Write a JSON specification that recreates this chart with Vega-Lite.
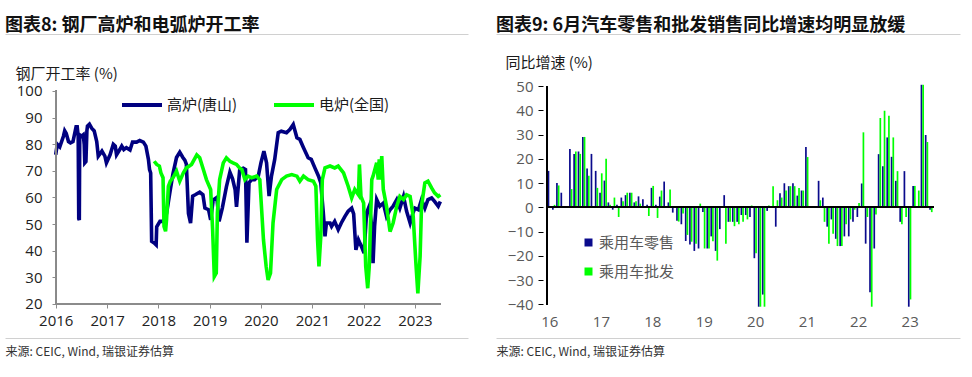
{
  "$schema": "https://vega.github.io/schema/vega-lite/v6.json",
  "padding": {"left": 5, "top": 17, "right": 5, "bottom": 5},
  "config": {
    "font": "Open Sans, Noto Sans CJK SC",
    "view": {"stroke": null},
    "axis": {"grid": false, "labelOverlap": false, "labelFlush": false, "labelFont": "Open Sans, Noto Sans CJK SC", "titleFont": "Noto Sans CJK SC"},
    "axisY": {"labelOverlap": false},
    "axisQuantitative": {"labelOverlap": false},
    "legend": {"padding": 0}
  },
  "spacing": 28,
  "resolve": {"scale": {"color": "independent"}, "legend": {"color": "independent"}},
  "datasets": {
    "furnace": [
      {"date": "2016-01-01", "series": "高炉(唐山)", "value": 76},
      {"date": "2016-01-12", "series": "高炉(唐山)", "value": 80},
      {"date": "2016-01-30", "series": "高炉(唐山)", "value": 79},
      {"date": "2016-02-25", "series": "高炉(唐山)", "value": 83},
      {"date": "2016-03-05", "series": "高炉(唐山)", "value": 85},
      {"date": "2016-03-16", "series": "高炉(唐山)", "value": 84},
      {"date": "2016-04-01", "series": "高炉(唐山)", "value": 81},
      {"date": "2016-04-15", "series": "高炉(唐山)", "value": 80.5},
      {"date": "2016-05-03", "series": "高炉(唐山)", "value": 81},
      {"date": "2016-05-25", "series": "高炉(唐山)", "value": 86.5},
      {"date": "2016-06-02", "series": "高炉(唐山)", "value": 86.5},
      {"date": "2016-06-09", "series": "高炉(唐山)", "value": 83},
      {"date": "2016-06-13", "series": "高炉(唐山)", "value": 52},
      {"date": "2016-06-17", "series": "高炉(唐山)", "value": 51.5},
      {"date": "2016-06-20", "series": "高炉(唐山)", "value": 83.5},
      {"date": "2016-07-04", "series": "高炉(唐山)", "value": 83},
      {"date": "2016-07-15", "series": "高炉(唐山)", "value": 83.5},
      {"date": "2016-07-22", "series": "高炉(唐山)", "value": 80},
      {"date": "2016-07-26", "series": "高炉(唐山)", "value": 73},
      {"date": "2016-08-03", "series": "高炉(唐山)", "value": 73.5},
      {"date": "2016-08-10", "series": "高炉(唐山)", "value": 85},
      {"date": "2016-08-14", "series": "高炉(唐山)", "value": 86.8},
      {"date": "2016-08-28", "series": "高炉(唐山)", "value": 87.5},
      {"date": "2016-09-13", "series": "高炉(唐山)", "value": 86},
      {"date": "2016-10-01", "series": "高炉(唐山)", "value": 85},
      {"date": "2016-10-19", "series": "高炉(唐山)", "value": 81},
      {"date": "2016-10-30", "series": "高炉(唐山)", "value": 75.5},
      {"date": "2016-11-25", "series": "高炉(唐山)", "value": 77.4},
      {"date": "2016-12-16", "series": "高炉(唐山)", "value": 75.5},
      {"date": "2016-12-27", "series": "高炉(唐山)", "value": 73},
      {"date": "2017-01-22", "series": "高炉(唐山)", "value": 76},
      {"date": "2017-02-14", "series": "高炉(唐山)", "value": 80},
      {"date": "2017-02-28", "series": "高炉(唐山)", "value": 79.3},
      {"date": "2017-03-09", "series": "高炉(唐山)", "value": 76},
      {"date": "2017-04-01", "series": "高炉(唐山)", "value": 78},
      {"date": "2017-04-15", "series": "高炉(唐山)", "value": 79.3},
      {"date": "2017-04-30", "series": "高炉(唐山)", "value": 78},
      {"date": "2017-05-18", "series": "高炉(唐山)", "value": 78.7},
      {"date": "2017-06-13", "series": "高炉(唐山)", "value": 77.8},
      {"date": "2017-07-01", "series": "高炉(唐山)", "value": 80.8},
      {"date": "2017-07-30", "series": "高炉(唐山)", "value": 80.8},
      {"date": "2017-08-21", "series": "高炉(唐山)", "value": 81.4},
      {"date": "2017-09-16", "series": "高炉(唐山)", "value": 80.8},
      {"date": "2017-10-04", "series": "高炉(唐山)", "value": 79.3},
      {"date": "2017-10-22", "series": "高炉(唐山)", "value": 74.3},
      {"date": "2017-10-30", "series": "高炉(唐山)", "value": 70.5},
      {"date": "2017-11-07", "series": "高炉(唐山)", "value": 69.2},
      {"date": "2017-11-14", "series": "高炉(唐山)", "value": 43.5},
      {"date": "2017-12-02", "series": "高炉(唐山)", "value": 42.9},
      {"date": "2017-12-16", "series": "高炉(唐山)", "value": 42.2},
      {"date": "2017-12-20", "series": "高炉(唐山)", "value": 49},
      {"date": "2018-01-12", "series": "高炉(唐山)", "value": 51},
      {"date": "2018-02-07", "series": "高炉(唐山)", "value": 51},
      {"date": "2018-02-28", "series": "高炉(唐山)", "value": 54},
      {"date": "2018-03-24", "series": "高炉(唐山)", "value": 62},
      {"date": "2018-04-15", "series": "高炉(唐山)", "value": 69},
      {"date": "2018-05-10", "series": "高炉(唐山)", "value": 75},
      {"date": "2018-06-02", "series": "高炉(唐山)", "value": 77},
      {"date": "2018-06-24", "series": "高炉(唐山)", "value": 75},
      {"date": "2018-07-08", "series": "高炉(唐山)", "value": 74},
      {"date": "2018-07-19", "series": "高炉(唐山)", "value": 72.5},
      {"date": "2018-08-03", "series": "高炉(唐山)", "value": 54},
      {"date": "2018-08-18", "series": "高炉(唐山)", "value": 50.4},
      {"date": "2018-09-02", "series": "高炉(唐山)", "value": 60.5},
      {"date": "2018-09-20", "series": "高炉(唐山)", "value": 61},
      {"date": "2018-10-22", "series": "高炉(唐山)", "value": 62},
      {"date": "2018-11-14", "series": "高炉(唐山)", "value": 61},
      {"date": "2018-11-28", "series": "高炉(唐山)", "value": 56},
      {"date": "2018-12-24", "series": "高炉(唐山)", "value": 55.4},
      {"date": "2019-01-08", "series": "高炉(唐山)", "value": 51.6},
      {"date": "2019-01-26", "series": "高炉(唐山)", "value": 59},
      {"date": "2019-02-21", "series": "高炉(唐山)", "value": 60},
      {"date": "2019-03-09", "series": "高炉(唐山)", "value": 51},
      {"date": "2019-04-01", "series": "高炉(唐山)", "value": 56},
      {"date": "2019-04-30", "series": "高炉(唐山)", "value": 64},
      {"date": "2019-05-25", "series": "高炉(唐山)", "value": 69.5},
      {"date": "2019-06-13", "series": "高炉(唐山)", "value": 67},
      {"date": "2019-07-01", "series": "高炉(唐山)", "value": 63},
      {"date": "2019-07-11", "series": "高炉(唐山)", "value": 56.5},
      {"date": "2019-08-03", "series": "高炉(唐山)", "value": 70.5},
      {"date": "2019-08-28", "series": "高炉(唐山)", "value": 71},
      {"date": "2019-09-13", "series": "高炉(唐山)", "value": 70.5},
      {"date": "2019-09-23", "series": "高炉(唐山)", "value": 43},
      {"date": "2019-10-08", "series": "高炉(唐山)", "value": 65.5},
      {"date": "2019-10-26", "series": "高炉(唐山)", "value": 66.7},
      {"date": "2019-11-17", "series": "高炉(唐山)", "value": 66.7},
      {"date": "2019-12-13", "series": "高炉(唐山)", "value": 68},
      {"date": "2020-01-01", "series": "高炉(唐山)", "value": 73},
      {"date": "2020-01-22", "series": "高炉(唐山)", "value": 77.4},
      {"date": "2020-02-10", "series": "高炉(唐山)", "value": 73},
      {"date": "2020-02-28", "series": "高炉(唐山)", "value": 60.5},
      {"date": "2020-03-16", "series": "高炉(唐山)", "value": 68},
      {"date": "2020-04-08", "series": "高炉(唐山)", "value": 74.3},
      {"date": "2020-05-03", "series": "高炉(唐山)", "value": 84.3},
      {"date": "2020-05-25", "series": "高炉(唐山)", "value": 84.9},
      {"date": "2020-07-01", "series": "高炉(唐山)", "value": 84.3},
      {"date": "2020-07-26", "series": "高炉(唐山)", "value": 85.6},
      {"date": "2020-08-18", "series": "高炉(唐山)", "value": 87.4},
      {"date": "2020-09-13", "series": "高炉(唐山)", "value": 82.4},
      {"date": "2020-10-04", "series": "高炉(唐山)", "value": 81.8},
      {"date": "2020-10-30", "series": "高炉(唐山)", "value": 78.7},
      {"date": "2020-12-02", "series": "高炉(唐山)", "value": 74.9},
      {"date": "2020-12-24", "series": "高炉(唐山)", "value": 74.3},
      {"date": "2021-01-19", "series": "高炉(唐山)", "value": 71.1},
      {"date": "2021-02-14", "series": "高炉(唐山)", "value": 68},
      {"date": "2021-03-02", "series": "高炉(唐山)", "value": 65.5},
      {"date": "2021-03-20", "series": "高炉(唐山)", "value": 54.2},
      {"date": "2021-04-01", "series": "高炉(唐山)", "value": 45.4},
      {"date": "2021-04-11", "series": "高炉(唐山)", "value": 50.4},
      {"date": "2021-05-07", "series": "高炉(唐山)", "value": 50.4},
      {"date": "2021-05-18", "series": "高炉(唐山)", "value": 49.1},
      {"date": "2021-06-09", "series": "高炉(唐山)", "value": 51},
      {"date": "2021-07-04", "series": "高炉(唐山)", "value": 47.9},
      {"date": "2021-07-26", "series": "高炉(唐山)", "value": 50.4},
      {"date": "2021-08-21", "series": "高炉(唐山)", "value": 52.9},
      {"date": "2021-09-13", "series": "高炉(唐山)", "value": 54.8},
      {"date": "2021-10-08", "series": "高炉(唐山)", "value": 56},
      {"date": "2021-10-22", "series": "高炉(唐山)", "value": 53.8},
      {"date": "2021-11-07", "series": "高炉(唐山)", "value": 40.3},
      {"date": "2021-11-25", "series": "高炉(唐山)", "value": 44.1},
      {"date": "2021-12-16", "series": "高炉(唐山)", "value": 41.6},
      {"date": "2022-01-04", "series": "高炉(唐山)", "value": 39.1},
      {"date": "2022-01-22", "series": "高炉(唐山)", "value": 54.2},
      {"date": "2022-02-10", "series": "高炉(唐山)", "value": 56.7},
      {"date": "2022-02-28", "series": "高炉(唐山)", "value": 49.1},
      {"date": "2022-03-09", "series": "高炉(唐山)", "value": 35.3},
      {"date": "2022-03-20", "series": "高炉(唐山)", "value": 49.1},
      {"date": "2022-04-04", "series": "高炉(唐山)", "value": 59.2},
      {"date": "2022-04-26", "series": "高炉(唐山)", "value": 56.7},
      {"date": "2022-05-21", "series": "高炉(唐山)", "value": 57.9},
      {"date": "2022-06-13", "series": "高炉(唐山)", "value": 52.9},
      {"date": "2022-07-08", "series": "高炉(唐山)", "value": 55.4},
      {"date": "2022-07-30", "series": "高炉(唐山)", "value": 56.7},
      {"date": "2022-08-25", "series": "高炉(唐山)", "value": 59.2},
      {"date": "2022-09-16", "series": "高炉(唐山)", "value": 56},
      {"date": "2022-10-12", "series": "高炉(唐山)", "value": 60.4},
      {"date": "2022-11-03", "series": "高炉(唐山)", "value": 54.8},
      {"date": "2022-11-28", "series": "高炉(唐山)", "value": 50.4},
      {"date": "2022-12-16", "series": "高炉(唐山)", "value": 53.8},
      {"date": "2023-01-01", "series": "高炉(唐山)", "value": 56},
      {"date": "2023-01-26", "series": "高炉(唐山)", "value": 55.4},
      {"date": "2023-02-17", "series": "高炉(唐山)", "value": 59.2},
      {"date": "2023-03-13", "series": "高炉(唐山)", "value": 56},
      {"date": "2023-04-04", "series": "高炉(唐山)", "value": 59.2},
      {"date": "2023-04-30", "series": "高炉(唐山)", "value": 59.8},
      {"date": "2023-05-21", "series": "高炉(唐山)", "value": 58.5},
      {"date": "2023-06-16", "series": "高炉(唐山)", "value": 56.7},
      {"date": "2023-07-01", "series": "高炉(唐山)", "value": 58.5},
      {"date": "2017-12-02", "series": "电炉(全国)", "value": 73.6},
      {"date": "2017-12-20", "series": "电炉(全国)", "value": 72.4},
      {"date": "2018-01-08", "series": "电炉(全国)", "value": 71.8},
      {"date": "2018-01-19", "series": "电炉(全国)", "value": 69.2},
      {"date": "2018-02-03", "series": "电炉(全国)", "value": 67.4},
      {"date": "2018-02-10", "series": "电炉(全国)", "value": 49.1},
      {"date": "2018-02-21", "series": "电炉(全国)", "value": 47.3},
      {"date": "2018-02-28", "series": "电炉(全国)", "value": 51.7},
      {"date": "2018-03-13", "series": "电炉(全国)", "value": 64.2},
      {"date": "2018-03-27", "series": "电炉(全国)", "value": 66.1},
      {"date": "2018-04-15", "series": "电炉(全国)", "value": 67.4},
      {"date": "2018-05-10", "series": "电炉(全国)", "value": 69.9},
      {"date": "2018-06-02", "series": "电炉(全国)", "value": 66.1},
      {"date": "2018-06-27", "series": "电炉(全国)", "value": 69.2},
      {"date": "2018-07-19", "series": "电炉(全国)", "value": 71.1},
      {"date": "2018-08-25", "series": "电炉(全国)", "value": 72.4},
      {"date": "2018-10-01", "series": "电炉(全国)", "value": 76},
      {"date": "2018-10-22", "series": "电炉(全国)", "value": 74.9},
      {"date": "2018-11-17", "series": "电炉(全国)", "value": 70.5},
      {"date": "2018-12-09", "series": "电炉(全国)", "value": 66.7},
      {"date": "2019-01-08", "series": "电炉(全国)", "value": 63},
      {"date": "2019-01-22", "series": "电炉(全国)", "value": 47.9},
      {"date": "2019-02-03", "series": "电炉(全国)", "value": 30.3},
      {"date": "2019-02-17", "series": "电炉(全国)", "value": 31.6},
      {"date": "2019-02-25", "series": "电炉(全国)", "value": 54.2},
      {"date": "2019-03-13", "series": "电炉(全国)", "value": 66.7},
      {"date": "2019-04-08", "series": "电炉(全国)", "value": 73},
      {"date": "2019-04-30", "series": "电炉(全国)", "value": 74.9},
      {"date": "2019-05-25", "series": "电炉(全国)", "value": 73.6},
      {"date": "2019-06-16", "series": "电炉(全国)", "value": 73},
      {"date": "2019-07-11", "series": "电炉(全国)", "value": 72.4},
      {"date": "2019-08-03", "series": "电炉(全国)", "value": 71},
      {"date": "2019-08-18", "series": "电炉(全国)", "value": 70.5},
      {"date": "2019-09-09", "series": "电炉(全国)", "value": 66.7},
      {"date": "2019-10-01", "series": "电炉(全国)", "value": 68},
      {"date": "2019-10-26", "series": "电炉(全国)", "value": 67.4},
      {"date": "2019-12-02", "series": "电炉(全国)", "value": 68},
      {"date": "2019-12-24", "series": "电炉(全国)", "value": 66.7},
      {"date": "2020-01-19", "series": "电炉(全国)", "value": 44.1},
      {"date": "2020-02-07", "series": "电炉(全国)", "value": 34.1},
      {"date": "2020-02-21", "series": "电炉(全国)", "value": 29},
      {"date": "2020-03-09", "series": "电炉(全国)", "value": 31.6},
      {"date": "2020-03-27", "series": "电炉(全国)", "value": 50.4},
      {"date": "2020-04-22", "series": "电炉(全国)", "value": 63},
      {"date": "2020-05-28", "series": "电炉(全国)", "value": 66.7},
      {"date": "2020-07-01", "series": "电炉(全国)", "value": 68},
      {"date": "2020-08-07", "series": "电炉(全国)", "value": 68.6},
      {"date": "2020-09-13", "series": "电炉(全国)", "value": 68},
      {"date": "2020-10-04", "series": "电炉(全国)", "value": 66.1},
      {"date": "2020-10-30", "series": "电炉(全国)", "value": 68},
      {"date": "2020-12-02", "series": "电炉(全国)", "value": 66.7},
      {"date": "2021-01-08", "series": "电炉(全国)", "value": 66.1},
      {"date": "2021-01-26", "series": "电炉(全国)", "value": 64.2},
      {"date": "2021-02-07", "series": "电炉(全国)", "value": 44.1},
      {"date": "2021-02-17", "series": "电炉(全国)", "value": 34.1},
      {"date": "2021-03-02", "series": "电炉(全国)", "value": 45.4},
      {"date": "2021-03-13", "series": "电炉(全国)", "value": 66.7},
      {"date": "2021-04-01", "series": "电炉(全国)", "value": 71.1},
      {"date": "2021-05-07", "series": "电炉(全国)", "value": 71.8},
      {"date": "2021-06-09", "series": "电炉(全国)", "value": 71.1},
      {"date": "2021-07-04", "series": "电炉(全国)", "value": 71.8},
      {"date": "2021-08-11", "series": "电炉(全国)", "value": 69.2},
      {"date": "2021-09-13", "series": "电炉(全国)", "value": 64.2},
      {"date": "2021-10-08", "series": "电炉(全国)", "value": 59.8},
      {"date": "2021-10-30", "series": "电炉(全国)", "value": 63},
      {"date": "2021-11-25", "series": "电炉(全国)", "value": 61},
      {"date": "2021-12-02", "series": "电炉(全国)", "value": 72.4},
      {"date": "2021-12-13", "series": "电炉(全国)", "value": 60.4},
      {"date": "2022-01-01", "series": "电炉(全国)", "value": 57.9},
      {"date": "2022-01-16", "series": "电炉(全国)", "value": 34.1},
      {"date": "2022-01-30", "series": "电炉(全国)", "value": 25.9},
      {"date": "2022-02-10", "series": "电炉(全国)", "value": 34.1},
      {"date": "2022-02-28", "series": "电炉(全国)", "value": 66.7},
      {"date": "2022-03-09", "series": "电炉(全国)", "value": 68},
      {"date": "2022-04-04", "series": "电炉(全国)", "value": 73},
      {"date": "2022-04-15", "series": "电炉(全国)", "value": 66.7},
      {"date": "2022-04-22", "series": "电炉(全国)", "value": 74.3},
      {"date": "2022-04-30", "series": "电炉(全国)", "value": 66.7},
      {"date": "2022-05-10", "series": "电炉(全国)", "value": 75.5},
      {"date": "2022-05-21", "series": "电炉(全国)", "value": 63},
      {"date": "2022-06-13", "series": "电炉(全国)", "value": 56.7},
      {"date": "2022-07-08", "series": "电炉(全国)", "value": 47.2},
      {"date": "2022-07-30", "series": "电炉(全国)", "value": 50.4},
      {"date": "2022-08-25", "series": "电炉(全国)", "value": 56.7},
      {"date": "2022-09-16", "series": "电炉(全国)", "value": 60.4},
      {"date": "2022-10-12", "series": "电炉(全国)", "value": 59.2},
      {"date": "2022-11-03", "series": "电炉(全国)", "value": 61},
      {"date": "2022-11-28", "series": "电炉(全国)", "value": 60.4},
      {"date": "2022-12-20", "series": "电炉(全国)", "value": 52.9},
      {"date": "2023-01-08", "series": "电炉(全国)", "value": 35.3},
      {"date": "2023-01-22", "series": "电炉(全国)", "value": 24},
      {"date": "2023-02-07", "series": "电炉(全国)", "value": 37.8},
      {"date": "2023-02-17", "series": "电炉(全国)", "value": 56.7},
      {"date": "2023-03-13", "series": "电炉(全国)", "value": 65.5},
      {"date": "2023-04-04", "series": "电炉(全国)", "value": 66.1},
      {"date": "2023-04-30", "series": "电炉(全国)", "value": 63.6},
      {"date": "2023-05-21", "series": "电炉(全国)", "value": 61.7},
      {"date": "2023-06-16", "series": "电炉(全国)", "value": 60.4},
      {"date": "2023-07-01", "series": "电炉(全国)", "value": 61}
    ],
    "cars": [
      {"date": "2016-01-01", "series": "乘用车零售", "value": 15},
      {"date": "2016-02-01", "series": "乘用车零售", "value": -1},
      {"date": "2016-02-01", "series": "乘用车批发", "value": 1},
      {"date": "2016-03-01", "series": "乘用车零售", "value": 10},
      {"date": "2016-03-01", "series": "乘用车批发", "value": 9},
      {"date": "2016-04-01", "series": "乘用车零售", "value": 6},
      {"date": "2016-06-01", "series": "乘用车零售", "value": 24},
      {"date": "2016-06-01", "series": "乘用车批发", "value": 7.5},
      {"date": "2016-07-01", "series": "乘用车零售", "value": 22},
      {"date": "2016-07-01", "series": "乘用车批发", "value": 23},
      {"date": "2016-08-01", "series": "乘用车零售", "value": 23},
      {"date": "2016-08-01", "series": "乘用车批发", "value": 22},
      {"date": "2016-09-01", "series": "乘用车零售", "value": 29},
      {"date": "2016-09-01", "series": "乘用车批发", "value": 29},
      {"date": "2016-10-01", "series": "乘用车零售", "value": 16},
      {"date": "2016-10-01", "series": "乘用车批发", "value": 13},
      {"date": "2016-11-01", "series": "乘用车零售", "value": 22},
      {"date": "2016-12-01", "series": "乘用车零售", "value": 15},
      {"date": "2016-12-01", "series": "乘用车批发", "value": 8},
      {"date": "2017-01-01", "series": "乘用车零售", "value": 6},
      {"date": "2017-01-01", "series": "乘用车批发", "value": 14},
      {"date": "2017-02-01", "series": "乘用车零售", "value": 11},
      {"date": "2017-02-01", "series": "乘用车批发", "value": 20},
      {"date": "2017-03-01", "series": "乘用车零售", "value": 2},
      {"date": "2017-03-01", "series": "乘用车批发", "value": 1},
      {"date": "2017-04-01", "series": "乘用车零售", "value": -1},
      {"date": "2017-04-01", "series": "乘用车批发", "value": 4},
      {"date": "2017-05-01", "series": "乘用车零售", "value": 1},
      {"date": "2017-05-01", "series": "乘用车批发", "value": -4},
      {"date": "2017-06-01", "series": "乘用车零售", "value": 4},
      {"date": "2017-06-01", "series": "乘用车批发", "value": 2.5},
      {"date": "2017-07-01", "series": "乘用车零售", "value": 5},
      {"date": "2017-07-01", "series": "乘用车批发", "value": 6},
      {"date": "2017-08-01", "series": "乘用车零售", "value": 6},
      {"date": "2017-08-01", "series": "乘用车批发", "value": 6},
      {"date": "2017-09-01", "series": "乘用车零售", "value": 2},
      {"date": "2017-09-01", "series": "乘用车批发", "value": 2.5},
      {"date": "2017-10-01", "series": "乘用车零售", "value": 4.5},
      {"date": "2017-10-01", "series": "乘用车批发", "value": 1.5},
      {"date": "2017-11-01", "series": "乘用车零售", "value": 3.3},
      {"date": "2017-12-01", "series": "乘用车零售", "value": 1},
      {"date": "2017-12-01", "series": "乘用车批发", "value": -3.6},
      {"date": "2018-01-01", "series": "乘用车零售", "value": 8},
      {"date": "2018-01-01", "series": "乘用车批发", "value": 8.8},
      {"date": "2018-02-01", "series": "乘用车零售", "value": 1},
      {"date": "2018-02-01", "series": "乘用车批发", "value": -4.4},
      {"date": "2018-03-01", "series": "乘用车零售", "value": 4.4},
      {"date": "2018-03-01", "series": "乘用车批发", "value": 6.9},
      {"date": "2018-04-01", "series": "乘用车零售", "value": 10.6},
      {"date": "2018-05-01", "series": "乘用车零售", "value": 2},
      {"date": "2018-05-01", "series": "乘用车批发", "value": 7.3},
      {"date": "2018-06-01", "series": "乘用车零售", "value": -2.2},
      {"date": "2018-07-01", "series": "乘用车零售", "value": -5.6},
      {"date": "2018-07-01", "series": "乘用车批发", "value": -5.9},
      {"date": "2018-08-01", "series": "乘用车零售", "value": -7},
      {"date": "2018-08-01", "series": "乘用车批发", "value": -2.6},
      {"date": "2018-09-01", "series": "乘用车零售", "value": -13.9},
      {"date": "2018-09-01", "series": "乘用车批发", "value": -11.4},
      {"date": "2018-10-01", "series": "乘用车零售", "value": -15.3},
      {"date": "2018-10-01", "series": "乘用车批发", "value": -14.2},
      {"date": "2018-11-01", "series": "乘用车零售", "value": -18},
      {"date": "2018-11-01", "series": "乘用车批发", "value": -15},
      {"date": "2018-12-01", "series": "乘用车零售", "value": -17},
      {"date": "2018-12-01", "series": "乘用车批发", "value": 1.5},
      {"date": "2019-01-01", "series": "乘用车零售", "value": -2},
      {"date": "2019-01-01", "series": "乘用车批发", "value": -17},
      {"date": "2019-02-01", "series": "乘用车零售", "value": -17},
      {"date": "2019-02-01", "series": "乘用车批发", "value": -17},
      {"date": "2019-03-01", "series": "乘用车零售", "value": -12},
      {"date": "2019-03-01", "series": "乘用车批发", "value": -14},
      {"date": "2019-04-01", "series": "乘用车零售", "value": -18},
      {"date": "2019-04-01", "series": "乘用车批发", "value": -22},
      {"date": "2019-05-01", "series": "乘用车零售", "value": -9},
      {"date": "2019-06-01", "series": "乘用车零售", "value": 5},
      {"date": "2019-06-01", "series": "乘用车批发", "value": -15},
      {"date": "2019-07-01", "series": "乘用车零售", "value": -6},
      {"date": "2019-07-01", "series": "乘用车批发", "value": -6},
      {"date": "2019-08-01", "series": "乘用车零售", "value": -6},
      {"date": "2019-08-01", "series": "乘用车批发", "value": -7.8},
      {"date": "2019-09-01", "series": "乘用车零售", "value": -6},
      {"date": "2019-09-01", "series": "乘用车批发", "value": -7},
      {"date": "2019-10-01", "series": "乘用车零售", "value": -3.2},
      {"date": "2019-10-01", "series": "乘用车批发", "value": -6},
      {"date": "2019-11-01", "series": "乘用车零售", "value": -3.2},
      {"date": "2019-11-01", "series": "乘用车批发", "value": -5},
      {"date": "2019-12-01", "series": "乘用车零售", "value": -4},
      {"date": "2019-12-01", "series": "乘用车批发", "value": 0.7},
      {"date": "2020-01-01", "series": "乘用车零售", "value": -21},
      {"date": "2020-01-01", "series": "乘用车批发", "value": -19},
      {"date": "2020-02-01", "series": "乘用车零售", "value": -41},
      {"date": "2020-02-01", "series": "乘用车批发", "value": -41},
      {"date": "2020-03-01", "series": "乘用车零售", "value": -36},
      {"date": "2020-03-01", "series": "乘用车批发", "value": -41},
      {"date": "2020-04-01", "series": "乘用车零售", "value": -1.5},
      {"date": "2020-04-01", "series": "乘用车批发", "value": 0.7},
      {"date": "2020-05-01", "series": "乘用车批发", "value": 8.7},
      {"date": "2020-06-01", "series": "乘用车零售", "value": -8},
      {"date": "2020-06-01", "series": "乘用车批发", "value": 2.9},
      {"date": "2020-07-01", "series": "乘用车零售", "value": 5.8},
      {"date": "2020-07-01", "series": "乘用车批发", "value": 4},
      {"date": "2020-08-01", "series": "乘用车零售", "value": 9.9},
      {"date": "2020-08-01", "series": "乘用车批发", "value": 6.9},
      {"date": "2020-09-01", "series": "乘用车零售", "value": 8.7},
      {"date": "2020-09-01", "series": "乘用车批发", "value": 8.7},
      {"date": "2020-10-01", "series": "乘用车零售", "value": 9.9},
      {"date": "2020-10-01", "series": "乘用车批发", "value": 8.7},
      {"date": "2020-11-01", "series": "乘用车零售", "value": 4.8},
      {"date": "2020-11-01", "series": "乘用车批发", "value": 7.9},
      {"date": "2020-12-01", "series": "乘用车零售", "value": 6.9},
      {"date": "2020-12-01", "series": "乘用车批发", "value": 6.9},
      {"date": "2021-01-01", "series": "乘用车零售", "value": 24.8},
      {"date": "2021-01-01", "series": "乘用车批发", "value": 20.7},
      {"date": "2021-04-01", "series": "乘用车零售", "value": 10.9},
      {"date": "2021-04-01", "series": "乘用车批发", "value": 2.9},
      {"date": "2021-05-01", "series": "乘用车零售", "value": 4},
      {"date": "2021-05-01", "series": "乘用车批发", "value": -6},
      {"date": "2021-06-01", "series": "乘用车零售", "value": -8},
      {"date": "2021-06-01", "series": "乘用车批发", "value": -15},
      {"date": "2021-07-01", "series": "乘用车零售", "value": -5},
      {"date": "2021-07-01", "series": "乘用车批发", "value": -10.9},
      {"date": "2021-08-01", "series": "乘用车零售", "value": -13},
      {"date": "2021-08-01", "series": "乘用车批发", "value": -16},
      {"date": "2021-09-01", "series": "乘用车零售", "value": -16},
      {"date": "2021-09-01", "series": "乘用车批发", "value": -16},
      {"date": "2021-10-01", "series": "乘用车零售", "value": -12},
      {"date": "2021-10-01", "series": "乘用车批发", "value": -7},
      {"date": "2021-11-01", "series": "乘用车零售", "value": -12},
      {"date": "2021-11-01", "series": "乘用车批发", "value": -5},
      {"date": "2021-12-01", "series": "乘用车零售", "value": -6},
      {"date": "2021-12-01", "series": "乘用车批发", "value": -1},
      {"date": "2022-01-01", "series": "乘用车零售", "value": -4},
      {"date": "2022-01-01", "series": "乘用车批发", "value": 1.8},
      {"date": "2022-02-01", "series": "乘用车零售", "value": 9.8},
      {"date": "2022-02-01", "series": "乘用车批发", "value": 30.9},
      {"date": "2022-03-01", "series": "乘用车零售", "value": -15},
      {"date": "2022-03-01", "series": "乘用车批发", "value": -4},
      {"date": "2022-04-01", "series": "乘用车零售", "value": -35},
      {"date": "2022-04-01", "series": "乘用车批发", "value": -41},
      {"date": "2022-05-01", "series": "乘用车零售", "value": -17},
      {"date": "2022-05-01", "series": "乘用车批发", "value": -3},
      {"date": "2022-06-01", "series": "乘用车零售", "value": 21.9},
      {"date": "2022-06-01", "series": "乘用车批发", "value": 36.8},
      {"date": "2022-07-01", "series": "乘用车零售", "value": 16.9},
      {"date": "2022-07-01", "series": "乘用车批发", "value": 39.8},
      {"date": "2022-08-01", "series": "乘用车零售", "value": 28.8},
      {"date": "2022-08-01", "series": "乘用车批发", "value": 37.7},
      {"date": "2022-09-01", "series": "乘用车零售", "value": 20.8},
      {"date": "2022-09-01", "series": "乘用车批发", "value": 28.8},
      {"date": "2022-10-01", "series": "乘用车零售", "value": 10.9},
      {"date": "2022-10-01", "series": "乘用车批发", "value": 14.9},
      {"date": "2022-11-01", "series": "乘用车零售", "value": -6},
      {"date": "2022-11-01", "series": "乘用车批发", "value": -7},
      {"date": "2022-12-01", "series": "乘用车零售", "value": 14.9},
      {"date": "2022-12-01", "series": "乘用车批发", "value": -4},
      {"date": "2023-01-01", "series": "乘用车零售", "value": -41},
      {"date": "2023-01-01", "series": "乘用车批发", "value": -38},
      {"date": "2023-02-01", "series": "乘用车零售", "value": 8.8},
      {"date": "2023-02-01", "series": "乘用车批发", "value": 8.8},
      {"date": "2023-03-01", "series": "乘用车零售", "value": 0.1},
      {"date": "2023-03-01", "series": "乘用车批发", "value": 6.9},
      {"date": "2023-04-01", "series": "乘用车零售", "value": 50.5},
      {"date": "2023-04-01", "series": "乘用车批发", "value": 50.5},
      {"date": "2023-05-01", "series": "乘用车零售", "value": 29.8},
      {"date": "2023-05-01", "series": "乘用车批发", "value": 26.9},
      {"date": "2023-06-01", "series": "乘用车零售", "value": -1},
      {"date": "2023-06-01", "series": "乘用车批发", "value": -2}
    ]
  },
  "hconcat": [
    {
      "width": 463,
      "height": 304,
      "title": {"text": "图表8: 钢厂高炉和电弧炉开工率", "anchor": "start", "font": "Noto Sans CJK SC", "fontSize": 18, "fontWeight": "bold", "color": "#111111", "offset": -1},
      "data": {"name": "furnace"},
      "resolve": {"axis": {"x": "independent"}},
      "layer": [
        {
          "mark": {"type": "line", "strokeWidth": 3.6},
          "encoding": {
            "x": {
              "field": "date", "type": "temporal",
              "scale": {"domain": [{"year": 2015, "month": 1, "date": 5}, {"year": 2024, "month": 1, "date": 14}]},
              "axis": {
                "orient": "bottom", "offset": -34, "domain": false, "ticks": true, "tickSize": 4, "tickColor": "#8c8c8c",
                "values": [{"year": 2016, "month": 1, "date": 1}, {"year": 2017, "month": 1, "date": 1}, {"year": 2018, "month": 1, "date": 1}, {"year": 2019, "month": 1, "date": 1}, {"year": 2020, "month": 1, "date": 1}, {"year": 2021, "month": 1, "date": 1}, {"year": 2022, "month": 1, "date": 1}, {"year": 2023, "month": 1, "date": 1}],
                "format": "%Y", "labelFontSize": 15, "labelColor": "#222222", "labelPadding": 5, "labelFlush": false, "labelOverlap": false, "title": null
              }
            },
            "y": {
              "field": "value", "type": "quantitative",
              "scale": {"domain": [7.2, 121.4], "nice": false, "zero": false},
              "axis": {
                "offset": -51, "domain": false, "tickSize": 4, "tickColor": "#8c8c8c",
                "values": [20, 30, 40, 50, 60, 70, 80, 90, 100],
                "labelFontSize": 15, "labelColor": "#222222", "labelPadding": 10, "labelOverlap": false, "labelFlush": false,
                "title": "钢厂开工率 (%)", "titleAngle": 0, "titleAlign": "left", "titleBaseline": "middle",
                "titleX": -41, "titleY": 39, "titleFontSize": 15, "titleFontWeight": "normal", "titleColor": "#1a1a1a"
              }
            },
            "color": {
              "field": "series", "type": "nominal",
              "scale": {"domain": ["高炉(唐山)", "电炉(全国)"], "range": ["#000080", "#00ff00"]},
              "legend": {
                "orient": "none", "legendX": 115, "legendY": 49, "direction": "horizontal", "title": null,
                "symbolType": "stroke", "symbolSize": 1600, "symbolStrokeWidth": 4,
                "labelFont": "Noto Sans CJK SC", "labelFontSize": 15, "labelColor": "#1a1a1a",
                "columnPadding": 28, "labelOffset": 3
              }
            }
          }
        },
        {
          "mark": {"type": "rule", "color": "#8c8c8c", "strokeWidth": 1},
          "encoding": {
            "x": {
              "datum": {"year": 2016, "month": 1, "date": 1}, "type": "temporal",
              "scale": {"domain": [{"year": 2015, "month": 1, "date": 5}, {"year": 2024, "month": 1, "date": 14}]},
              "axis": {
                "orient": "bottom", "offset": 0, "domain": true, "domainColor": "#d0d0d0", "domainWidth": 1,
                "ticks": false, "labels": false,
                "title": "来源: CEIC, Wind, 瑞银证券估算", "titleAnchor": "start", "titleAlign": "left", "titleBaseline": "top",
                "titlePadding": 8, "titleFontSize": 12, "titleFontWeight": "normal", "titleColor": "#333333"
              }
            },
            "x2": {"datum": {"year": 2023, "month": 7, "date": 1}},
            "y": {"datum": 20, "type": "quantitative", "scale": {"domain": [7.2, 121.4], "nice": false, "zero": false}, "axis": {"labelOverlap": false, "values": [20, 30, 40, 50, 60, 70, 80, 90, 100]}}
          }
        },
        {
          "mark": {"type": "rule", "color": "#8c8c8c", "strokeWidth": 1},
          "encoding": {
            "x": {
              "datum": {"year": 2016, "month": 1, "date": 1}, "type": "temporal",
              "scale": {"domain": [{"year": 2015, "month": 1, "date": 5}, {"year": 2024, "month": 1, "date": 14}]},
              "axis": {"orient": "top", "domain": true, "domainColor": "#d0d0d0", "domainWidth": 1, "ticks": false, "labels": false, "title": null}
            },
            "y": {"datum": 20, "type": "quantitative", "scale": {"domain": [7.2, 121.4], "nice": false, "zero": false}, "axis": {"labelOverlap": false, "values": [20, 30, 40, 50, 60, 70, 80, 90, 100]}},
            "y2": {"datum": 100}
          }
        }
      ]
    },
    {
      "width": 464,
      "height": 304,
      "title": {"text": "图表9: 6月汽车零售和批发销售同比增速均明显放缓", "anchor": "start", "font": "Noto Sans CJK SC", "fontSize": 18, "fontWeight": "bold", "color": "#111111", "offset": -1},
      "data": {"name": "cars"},
      "resolve": {"axis": {"x": "independent"}},
      "layer": [
        {
          "transform": [{"filter": "datum.series === '乘用车零售'"}],
          "mark": {"type": "bar", "width": 1.7, "xOffset": -0.85},
          "encoding": {
            "x": {
              "field": "date", "type": "temporal",
              "scale": {"domain": [{"year": 2015, "month": 1, "date": 23}, {"year": 2023, "month": 11, "date": 19}]},
              "axis": {
                "orient": "bottom", "offset": -34, "domain": false, "ticks": false, "tickSize": 0,
                "values": [{"year": 2016, "month": 1, "date": 1}, {"year": 2017, "month": 1, "date": 1}, {"year": 2018, "month": 1, "date": 1}, {"year": 2019, "month": 1, "date": 1}, {"year": 2020, "month": 1, "date": 1}, {"year": 2021, "month": 1, "date": 1}, {"year": 2022, "month": 1, "date": 1}, {"year": 2023, "month": 1, "date": 1}],
                "format": "%y", "labelFontSize": 15, "labelColor": "#595959", "labelPadding": 10, "labelFlush": false, "labelOverlap": false, "title": null
              }
            },
            "y": {
              "field": "value", "type": "quantitative",
              "scale": {"domain": [-53.9, 71.44], "nice": false},
              "axis": {
                "offset": -47, "domain": false, "tickSize": 5, "tickColor": "#000000",
                "values": [-40, -30, -20, -10, 0, 10, 20, 30, 40, 50],
                "labelFontSize": 15, "labelColor": "#595959", "labelPadding": 5, "labelOverlap": false, "labelFlush": false,
                "title": "同比增速 (%)", "titleAngle": 0, "titleAlign": "left", "titleBaseline": "middle",
                "titleX": -38, "titleY": 28, "titleFontSize": 15, "titleFontWeight": "normal", "titleColor": "#1a1a1a"
              }
            },
            "color": {
              "field": "series", "type": "nominal",
              "scale": {"domain": ["乘用车零售", "乘用车批发"], "range": ["#0a0a8c", "#00ff00"]},
              "legend": {
                "orient": "none", "legendX": 85, "legendY": 201, "direction": "vertical", "title": null,
                "symbolType": "square", "symbolSize": 64, "symbolStrokeWidth": 0,
                "labelFont": "Noto Sans CJK SC", "labelFontSize": 15, "labelColor": "#595959",
                "rowPadding": 13, "labelOffset": 3
              }
            }
          }
        },
        {
          "transform": [{"filter": "datum.series === '乘用车批发'"}],
          "mark": {"type": "bar", "width": 1.7, "xOffset": 0.85},
          "encoding": {
            "x": {
              "field": "date", "type": "temporal",
              "scale": {"domain": [{"year": 2015, "month": 1, "date": 23}, {"year": 2023, "month": 11, "date": 19}]},
              "axis": null
            },
            "y": {"field": "value", "type": "quantitative", "scale": {"domain": [-53.9, 71.44], "nice": false}, "axis": {"labelOverlap": false, "values": [-40, -30, -20, -10, 0, 10, 20, 30, 40, 50]}},
            "color": {"field": "series", "type": "nominal", "scale": {"domain": ["乘用车零售", "乘用车批发"], "range": ["#0a0a8c", "#00ff00"]}}
          }
        },
        {
          "mark": {"type": "rule", "color": "#000000", "strokeWidth": 1.2},
          "encoding": {
            "x": {
              "datum": {"year": 2015, "month": 12, "date": 17}, "type": "temporal",
              "scale": {"domain": [{"year": 2015, "month": 1, "date": 23}, {"year": 2023, "month": 11, "date": 19}]},
              "axis": {
                "orient": "bottom", "offset": 0, "domain": true, "domainColor": "#d0d0d0", "domainWidth": 1,
                "ticks": false, "labels": false,
                "title": "来源: CEIC, Wind, 瑞银证券估算", "titleAnchor": "start", "titleAlign": "left", "titleBaseline": "top",
                "titlePadding": 8, "titleFontSize": 12, "titleFontWeight": "normal", "titleColor": "#333333"
              }
            },
            "x2": {"datum": {"year": 2023, "month": 6, "date": 17}},
            "y": {"datum": 0, "type": "quantitative", "scale": {"domain": [-53.9, 71.44], "nice": false}, "axis": {"labelOverlap": false, "values": [-40, -30, -20, -10, 0, 10, 20, 30, 40, 50]}}
          }
        },
        {
          "mark": {"type": "rule", "color": "#000000", "strokeWidth": 1.2},
          "encoding": {
            "x": {
              "datum": {"year": 2015, "month": 12, "date": 17}, "type": "temporal",
              "scale": {"domain": [{"year": 2015, "month": 1, "date": 23}, {"year": 2023, "month": 11, "date": 19}]},
              "axis": {"orient": "top", "domain": true, "domainColor": "#d0d0d0", "domainWidth": 1, "ticks": false, "labels": false, "title": null}
            },
            "y": {"datum": -40, "type": "quantitative", "scale": {"domain": [-53.9, 71.44], "nice": false}, "axis": {"labelOverlap": false, "values": [-40, -30, -20, -10, 0, 10, 20, 30, 40, 50]}},
            "y2": {"datum": 50}
          }
        }
      ]
    }
  ]
}
